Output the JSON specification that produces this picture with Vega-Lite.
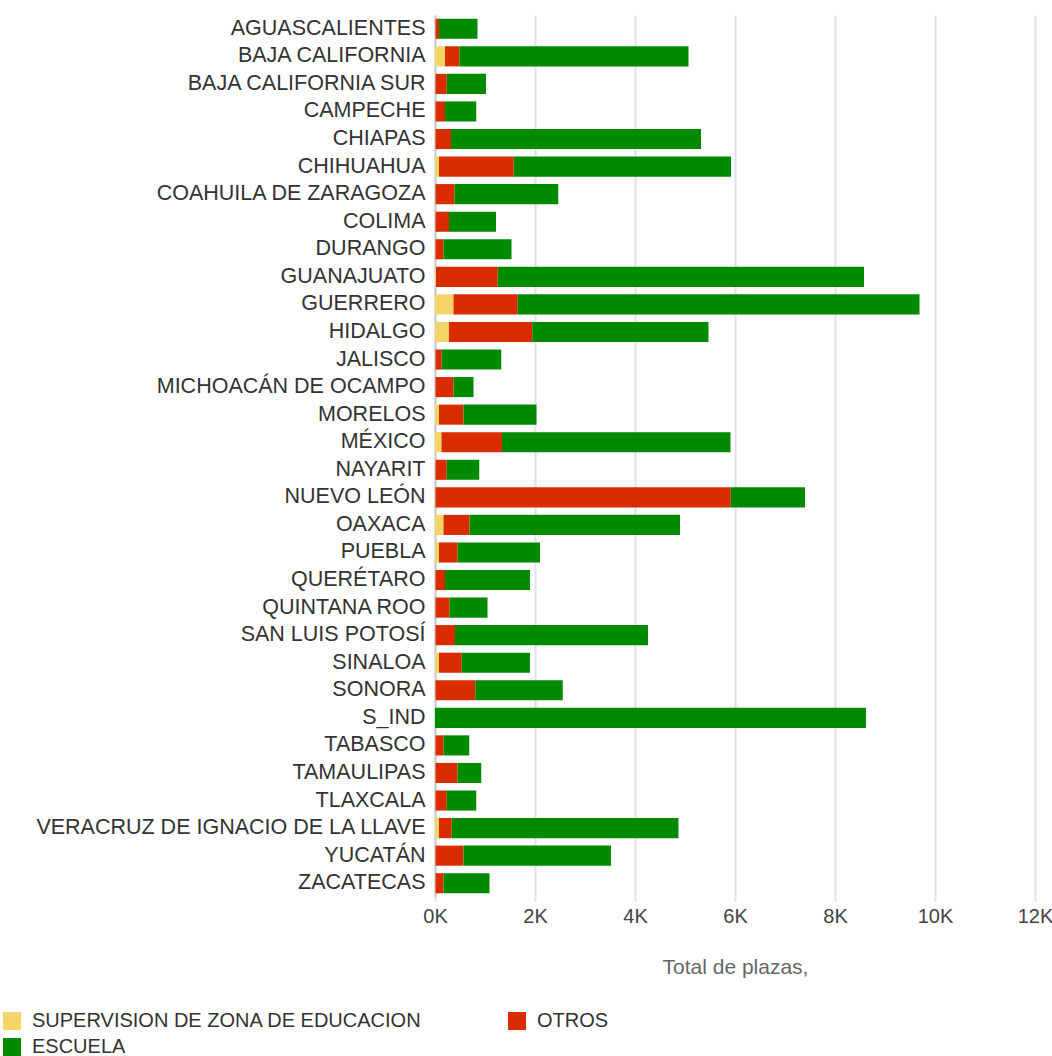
{
  "$schema": "https://vega.github.io/schema/vega-lite/v6.json",
  "autosize": "none",
  "padding": {"left": 435, "top": 15, "right": 17, "bottom": 159},
  "width": 600,
  "height": 882,
  "background": "white",
  "config": {
    "view": {"stroke": null},
    "font": "Liberation Sans, Arial, sans-serif"
  },
  "data": {
    "values": [
      {"estado": "AGUASCALIENTES", "tipo": "SUPERVISION DE ZONA DE EDUCACION", "orden": 1, "plazas": 10},
      {"estado": "AGUASCALIENTES", "tipo": "OTROS", "orden": 2, "plazas": 70},
      {"estado": "AGUASCALIENTES", "tipo": "ESCUELA", "orden": 3, "plazas": 770},
      {"estado": "BAJA CALIFORNIA", "tipo": "SUPERVISION DE ZONA DE EDUCACION", "orden": 1, "plazas": 200},
      {"estado": "BAJA CALIFORNIA", "tipo": "OTROS", "orden": 2, "plazas": 290},
      {"estado": "BAJA CALIFORNIA", "tipo": "ESCUELA", "orden": 3, "plazas": 4580},
      {"estado": "BAJA CALIFORNIA SUR", "tipo": "SUPERVISION DE ZONA DE EDUCACION", "orden": 1, "plazas": 10},
      {"estado": "BAJA CALIFORNIA SUR", "tipo": "OTROS", "orden": 2, "plazas": 225},
      {"estado": "BAJA CALIFORNIA SUR", "tipo": "ESCUELA", "orden": 3, "plazas": 785},
      {"estado": "CAMPECHE", "tipo": "SUPERVISION DE ZONA DE EDUCACION", "orden": 1, "plazas": 10},
      {"estado": "CAMPECHE", "tipo": "OTROS", "orden": 2, "plazas": 190},
      {"estado": "CAMPECHE", "tipo": "ESCUELA", "orden": 3, "plazas": 625},
      {"estado": "CHIAPAS", "tipo": "SUPERVISION DE ZONA DE EDUCACION", "orden": 1, "plazas": 10},
      {"estado": "CHIAPAS", "tipo": "OTROS", "orden": 2, "plazas": 310},
      {"estado": "CHIAPAS", "tipo": "ESCUELA", "orden": 3, "plazas": 5000},
      {"estado": "CHIHUAHUA", "tipo": "SUPERVISION DE ZONA DE EDUCACION", "orden": 1, "plazas": 80},
      {"estado": "CHIHUAHUA", "tipo": "OTROS", "orden": 2, "plazas": 1495},
      {"estado": "CHIHUAHUA", "tipo": "ESCUELA", "orden": 3, "plazas": 4345},
      {"estado": "COAHUILA DE ZARAGOZA", "tipo": "SUPERVISION DE ZONA DE EDUCACION", "orden": 1, "plazas": 10},
      {"estado": "COAHUILA DE ZARAGOZA", "tipo": "OTROS", "orden": 2, "plazas": 380},
      {"estado": "COAHUILA DE ZARAGOZA", "tipo": "ESCUELA", "orden": 3, "plazas": 2075},
      {"estado": "COLIMA", "tipo": "SUPERVISION DE ZONA DE EDUCACION", "orden": 1, "plazas": 10},
      {"estado": "COLIMA", "tipo": "OTROS", "orden": 2, "plazas": 270},
      {"estado": "COLIMA", "tipo": "ESCUELA", "orden": 3, "plazas": 940},
      {"estado": "DURANGO", "tipo": "SUPERVISION DE ZONA DE EDUCACION", "orden": 1, "plazas": 10},
      {"estado": "DURANGO", "tipo": "OTROS", "orden": 2, "plazas": 160},
      {"estado": "DURANGO", "tipo": "ESCUELA", "orden": 3, "plazas": 1360},
      {"estado": "GUANAJUATO", "tipo": "SUPERVISION DE ZONA DE EDUCACION", "orden": 1, "plazas": 20},
      {"estado": "GUANAJUATO", "tipo": "OTROS", "orden": 2, "plazas": 1235},
      {"estado": "GUANAJUATO", "tipo": "ESCUELA", "orden": 3, "plazas": 7325},
      {"estado": "GUERRERO", "tipo": "SUPERVISION DE ZONA DE EDUCACION", "orden": 1, "plazas": 370},
      {"estado": "GUERRERO", "tipo": "OTROS", "orden": 2, "plazas": 1285},
      {"estado": "GUERRERO", "tipo": "ESCUELA", "orden": 3, "plazas": 8035},
      {"estado": "HIDALGO", "tipo": "SUPERVISION DE ZONA DE EDUCACION", "orden": 1, "plazas": 280},
      {"estado": "HIDALGO", "tipo": "OTROS", "orden": 2, "plazas": 1665},
      {"estado": "HIDALGO", "tipo": "ESCUELA", "orden": 3, "plazas": 3525},
      {"estado": "JALISCO", "tipo": "SUPERVISION DE ZONA DE EDUCACION", "orden": 1, "plazas": 10},
      {"estado": "JALISCO", "tipo": "OTROS", "orden": 2, "plazas": 125},
      {"estado": "JALISCO", "tipo": "ESCUELA", "orden": 3, "plazas": 1190},
      {"estado": "MICHOACÁN DE OCAMPO", "tipo": "SUPERVISION DE ZONA DE EDUCACION", "orden": 1, "plazas": 10},
      {"estado": "MICHOACÁN DE OCAMPO", "tipo": "OTROS", "orden": 2, "plazas": 360},
      {"estado": "MICHOACÁN DE OCAMPO", "tipo": "ESCUELA", "orden": 3, "plazas": 400},
      {"estado": "MORELOS", "tipo": "SUPERVISION DE ZONA DE EDUCACION", "orden": 1, "plazas": 80},
      {"estado": "MORELOS", "tipo": "OTROS", "orden": 2, "plazas": 490},
      {"estado": "MORELOS", "tipo": "ESCUELA", "orden": 3, "plazas": 1460},
      {"estado": "MÉXICO", "tipo": "SUPERVISION DE ZONA DE EDUCACION", "orden": 1, "plazas": 130},
      {"estado": "MÉXICO", "tipo": "OTROS", "orden": 2, "plazas": 1210},
      {"estado": "MÉXICO", "tipo": "ESCUELA", "orden": 3, "plazas": 4570},
      {"estado": "NAYARIT", "tipo": "SUPERVISION DE ZONA DE EDUCACION", "orden": 1, "plazas": 10},
      {"estado": "NAYARIT", "tipo": "OTROS", "orden": 2, "plazas": 225},
      {"estado": "NAYARIT", "tipo": "ESCUELA", "orden": 3, "plazas": 650},
      {"estado": "NUEVO LEÓN", "tipo": "SUPERVISION DE ZONA DE EDUCACION", "orden": 1, "plazas": 10},
      {"estado": "NUEVO LEÓN", "tipo": "OTROS", "orden": 2, "plazas": 5905},
      {"estado": "NUEVO LEÓN", "tipo": "ESCUELA", "orden": 3, "plazas": 1485},
      {"estado": "OAXACA", "tipo": "SUPERVISION DE ZONA DE EDUCACION", "orden": 1, "plazas": 170},
      {"estado": "OAXACA", "tipo": "OTROS", "orden": 2, "plazas": 520},
      {"estado": "OAXACA", "tipo": "ESCUELA", "orden": 3, "plazas": 4210},
      {"estado": "PUEBLA", "tipo": "SUPERVISION DE ZONA DE EDUCACION", "orden": 1, "plazas": 80},
      {"estado": "PUEBLA", "tipo": "OTROS", "orden": 2, "plazas": 370},
      {"estado": "PUEBLA", "tipo": "ESCUELA", "orden": 3, "plazas": 1650},
      {"estado": "QUERÉTARO", "tipo": "SUPERVISION DE ZONA DE EDUCACION", "orden": 1, "plazas": 10},
      {"estado": "QUERÉTARO", "tipo": "OTROS", "orden": 2, "plazas": 190},
      {"estado": "QUERÉTARO", "tipo": "ESCUELA", "orden": 3, "plazas": 1700},
      {"estado": "QUINTANA ROO", "tipo": "SUPERVISION DE ZONA DE EDUCACION", "orden": 1, "plazas": 10},
      {"estado": "QUINTANA ROO", "tipo": "OTROS", "orden": 2, "plazas": 280},
      {"estado": "QUINTANA ROO", "tipo": "ESCUELA", "orden": 3, "plazas": 760},
      {"estado": "SAN LUIS POTOSÍ", "tipo": "SUPERVISION DE ZONA DE EDUCACION", "orden": 1, "plazas": 10},
      {"estado": "SAN LUIS POTOSÍ", "tipo": "OTROS", "orden": 2, "plazas": 390},
      {"estado": "SAN LUIS POTOSÍ", "tipo": "ESCUELA", "orden": 3, "plazas": 3860},
      {"estado": "SINALOA", "tipo": "SUPERVISION DE ZONA DE EDUCACION", "orden": 1, "plazas": 80},
      {"estado": "SINALOA", "tipo": "OTROS", "orden": 2, "plazas": 455},
      {"estado": "SINALOA", "tipo": "ESCUELA", "orden": 3, "plazas": 1365},
      {"estado": "SONORA", "tipo": "SUPERVISION DE ZONA DE EDUCACION", "orden": 1, "plazas": 10},
      {"estado": "SONORA", "tipo": "OTROS", "orden": 2, "plazas": 795},
      {"estado": "SONORA", "tipo": "ESCUELA", "orden": 3, "plazas": 1750},
      {"estado": "S_IND", "tipo": "SUPERVISION DE ZONA DE EDUCACION", "orden": 1, "plazas": 0},
      {"estado": "S_IND", "tipo": "OTROS", "orden": 2, "plazas": 0},
      {"estado": "S_IND", "tipo": "ESCUELA", "orden": 3, "plazas": 8620},
      {"estado": "TABASCO", "tipo": "SUPERVISION DE ZONA DE EDUCACION", "orden": 1, "plazas": 10},
      {"estado": "TABASCO", "tipo": "OTROS", "orden": 2, "plazas": 160},
      {"estado": "TABASCO", "tipo": "ESCUELA", "orden": 3, "plazas": 515},
      {"estado": "TAMAULIPAS", "tipo": "SUPERVISION DE ZONA DE EDUCACION", "orden": 1, "plazas": 10},
      {"estado": "TAMAULIPAS", "tipo": "OTROS", "orden": 2, "plazas": 440},
      {"estado": "TAMAULIPAS", "tipo": "ESCUELA", "orden": 3, "plazas": 475},
      {"estado": "TLAXCALA", "tipo": "SUPERVISION DE ZONA DE EDUCACION", "orden": 1, "plazas": 10},
      {"estado": "TLAXCALA", "tipo": "OTROS", "orden": 2, "plazas": 225},
      {"estado": "TLAXCALA", "tipo": "ESCUELA", "orden": 3, "plazas": 590},
      {"estado": "VERACRUZ DE IGNACIO DE LA LLAVE", "tipo": "SUPERVISION DE ZONA DE EDUCACION", "orden": 1, "plazas": 80},
      {"estado": "VERACRUZ DE IGNACIO DE LA LLAVE", "tipo": "OTROS", "orden": 2, "plazas": 255},
      {"estado": "VERACRUZ DE IGNACIO DE LA LLAVE", "tipo": "ESCUELA", "orden": 3, "plazas": 4535},
      {"estado": "YUCATÁN", "tipo": "SUPERVISION DE ZONA DE EDUCACION", "orden": 1, "plazas": 10},
      {"estado": "YUCATÁN", "tipo": "OTROS", "orden": 2, "plazas": 560},
      {"estado": "YUCATÁN", "tipo": "ESCUELA", "orden": 3, "plazas": 2950},
      {"estado": "ZACATECAS", "tipo": "SUPERVISION DE ZONA DE EDUCACION", "orden": 1, "plazas": 10},
      {"estado": "ZACATECAS", "tipo": "OTROS", "orden": 2, "plazas": 160},
      {"estado": "ZACATECAS", "tipo": "ESCUELA", "orden": 3, "plazas": 920}
    ]
  },
  "mark": {"type": "bar"},
  "encoding": {
    "y": {
      "field": "estado",
      "type": "nominal",
      "sort": null,
      "scale": {"paddingInner": 0.27, "paddingOuter": 0.135},
      "axis": {
        "title": null,
        "labelFontSize": 21.5,
        "labelColor": "#333333",
        "labelPadding": 10,
        "ticks": false,
        "domain": true,
        "domainColor": "#c8ccd2",
        "domainWidth": 2,
        "labelLimit": 500
      }
    },
    "x": {
      "field": "plazas",
      "type": "quantitative",
      "aggregate": "sum",
      "stack": "zero",
      "scale": {"domain": [0, 12000], "nice": false},
      "axis": {
        "title": "Total de plazas,",
        "titleFontSize": 21,
        "titleFontWeight": "normal",
        "titleColor": "#666666",
        "titlePadding": 30,
        "values": [0, 2000, 4000, 6000, 8000, 10000, 12000],
        "labelExpr": "datum.value / 1000 + 'K'",
        "labelFontSize": 20,
        "labelColor": "#444444",
        "labelPadding": 5,
        "labelFlush": false,
        "domain": false,
        "grid": true,
        "gridColor": "#dde3ea",
        "gridWidth": 2,
        "ticks": true,
        "tickColor": "#dde3ea",
        "tickWidth": 2,
        "tickSize": 4
      }
    },
    "order": {"field": "orden", "type": "quantitative"},
    "color": {
      "field": "tipo",
      "type": "nominal",
      "scale": {
        "domain": ["SUPERVISION DE ZONA DE EDUCACION", "OTROS", "ESCUELA"],
        "range": ["#f4d466", "#d92d00", "#008a00"]
      },
      "legend": {
        "title": null,
        "orient": "none",
        "legendX": -433,
        "legendY": 996,
        "direction": "horizontal",
        "columns": 2,
        "columnPadding": 85,
        "rowPadding": 6,
        "symbolType": "square",
        "symbolSize": 324,
        "symbolStrokeWidth": 0,
        "labelFontSize": 20,
        "labelColor": "#333333",
        "labelOffset": 10,
        "labelLimit": 600
      }
    }
  }
}
